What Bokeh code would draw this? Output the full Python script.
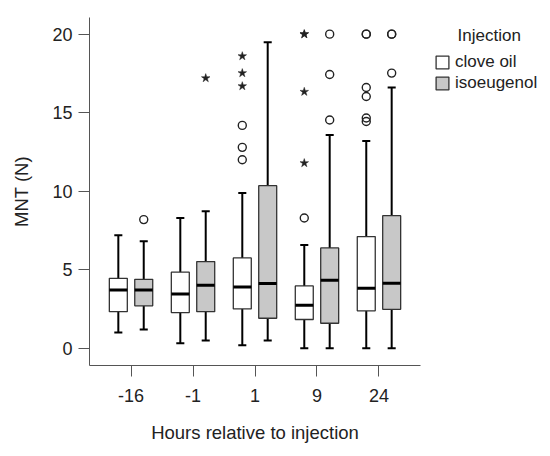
from bokeh.plotting import figure
from bokeh.models import (FactorRange, Legend, LegendItem, ColumnDataSource,
                          Range1d, FixedTicker)
from bokeh.transform import dodge
from bokeh.embed import file_html
from bokeh.resources import INLINE

hours = ["-16", "-1", "1", "9", "24"]

clove_low = [1.0, 0.32, 0.19, 0.0, 0.0]
clove_q1 = [2.33, 2.27, 2.50, 1.83, 2.38]
clove_med = [3.71, 3.46, 3.90, 2.74, 3.82]
clove_q3 = [4.45, 4.84, 5.75, 3.97, 7.11]
clove_high = [7.19, 8.29, 9.88, 6.58, 13.19]

iso_low = [1.19, 0.49, 0.49, 0.0, 0.0]
iso_q1 = [2.70, 2.33, 1.91, 1.59, 2.48]
iso_med = [3.71, 4.01, 4.12, 4.33, 4.14]
iso_q3 = [4.39, 5.52, 10.35, 6.39, 8.44]
iso_high = [6.81, 8.72, 19.49, 13.57, 16.60]

# outliers (circles) and extreme values (stars)
clove_circ_hour = ["1", "1", "1", "9", "24", "24", "24", "24", "24", "24"]
clove_circ_val = [14.19, 12.79, 12.0, 8.29, 20.0, 20.0, 16.60, 16.03, 14.66, 14.44]
clove_star_hour = ["1", "1", "1", "9", "9", "9", "9"]
clove_star_val = [18.6, 17.52, 16.69, 20.0, 20.0, 16.33, 11.79]
iso_circ_hour = ["-16", "9", "9", "9", "24", "24", "24"]
iso_circ_val = [8.19, 20.0, 17.43, 14.53, 20.0, 20.0, 17.52]
iso_star_hour = ["-1"]
iso_star_val = [17.2]

y_ticks = [0, 5, 10, 15, 20]

FONT = "Liberation Sans"
TXT = "#222222"
OFF = 0.205
BW = 0.29
CAP = 0.065

p = figure(x_range=FactorRange(*hours, range_padding=0.17, range_padding_units="absolute"),
           y_range=Range1d(-1.1, 21.06),
           frame_width=331, frame_height=348,
           min_border_left=89, min_border_top=17, min_border_bottom=88, min_border_right=125,
           output_backend="svg", toolbar_location=None)

p.outline_line_color = None
p.grid.visible = False
p.background_fill_color = "white"

clove = ColumnDataSource(dict(hour=hours, low=clove_low, q1=clove_q1, med=clove_med,
                              q3=clove_q3, high=clove_high))
iso = ColumnDataSource(dict(hour=hours, low=iso_low, q1=iso_q1, med=iso_med,
                            q3=iso_q3, high=iso_high))

boxes = {}
for src, off, fill, name in [(clove, -OFF, "white", "clove"), (iso, OFF, "#c8c8c8", "iso")]:
    xc = dodge("hour", off, range=p.x_range)
    p.segment(x0=xc, y0="low", x1=xc, y1="q1", source=src, line_color="black", line_width=2)
    p.segment(x0=xc, y0="q3", x1=xc, y1="high", source=src, line_color="black", line_width=2)
    for fld in ["low", "high"]:
        p.segment(x0=dodge("hour", off - CAP, range=p.x_range), y0=fld,
                  x1=dodge("hour", off + CAP, range=p.x_range), y1=fld,
                  source=src, line_color="black", line_width=2)
    boxes[name] = p.vbar(x=xc, width=BW, bottom="q1", top="q3", source=src,
                         fill_color=fill, line_color="#333333", line_width=1.3)
    p.segment(x0=dodge("hour", off - BW / 2, range=p.x_range), y0="med",
              x1=dodge("hour", off + BW / 2, range=p.x_range), y1="med",
              source=src, line_color="black", line_width=3)

for hrs, vals, off in [(clove_circ_hour, clove_circ_val, -OFF), (iso_circ_hour, iso_circ_val, OFF)]:
    s = ColumnDataSource(dict(hour=hrs, v=vals))
    p.scatter(x=dodge("hour", off, range=p.x_range), y="v", source=s, marker="circle",
              size=8, fill_color=None, line_color="#222222", line_width=1.4)
for hrs, vals, off in [(clove_star_hour, clove_star_val, -OFF), (iso_star_hour, iso_star_val, OFF)]:
    s = ColumnDataSource(dict(hour=hrs, v=vals))
    p.scatter(x=dodge("hour", off, range=p.x_range), y="v", source=s, marker="star",
              size=9, fill_color="#222222", line_color="#222222", line_width=0.5)

for ax in [p.xaxis[0], p.yaxis[0]]:
    ax.axis_line_color = "#555555"
    ax.major_tick_line_color = "#555555"
    ax.major_tick_in = 0
    ax.major_tick_out = 11
    ax.minor_tick_line_color = None
    ax.major_label_text_font = FONT
    ax.major_label_text_font_size = "18px"
    ax.major_label_text_color = TXT
    ax.axis_label_text_font = FONT
    ax.axis_label_text_font_size = "18.5px"
    ax.axis_label_text_font_style = "normal"
    ax.axis_label_text_color = TXT

p.yaxis.ticker = FixedTicker(ticks=y_ticks)
p.yaxis.major_label_standoff = 6
p.yaxis.axis_label = "MNT (N)"
p.yaxis.axis_label_standoff = 17
p.xaxis.major_label_standoff = 12
p.xaxis.axis_label = "Hours relative to injection"
p.xaxis.axis_label_standoff = 17

legend = Legend(items=[LegendItem(label="clove oil", renderers=[boxes["clove"]]),
                       LegendItem(label="isoeugenol", renderers=[boxes["iso"]])],
                title="\u00a0\u00a0\u00a0\u00a0\u00a0Injection",
                location=(14, 272), border_line_color=None, background_fill_alpha=0,
                glyph_width=16, glyph_height=16, label_standoff=5, spacing=1,
                label_height=15, padding=5, margin=0,
                label_text_font=FONT, label_text_font_size="17px", label_text_color=TXT,
                title_text_font=FONT, title_text_font_size="17px", title_text_color=TXT,
                title_text_font_style="normal", title_standoff=6)
p.add_layout(legend, "right")

open("out.html", "w").write(file_html(p, INLINE))
